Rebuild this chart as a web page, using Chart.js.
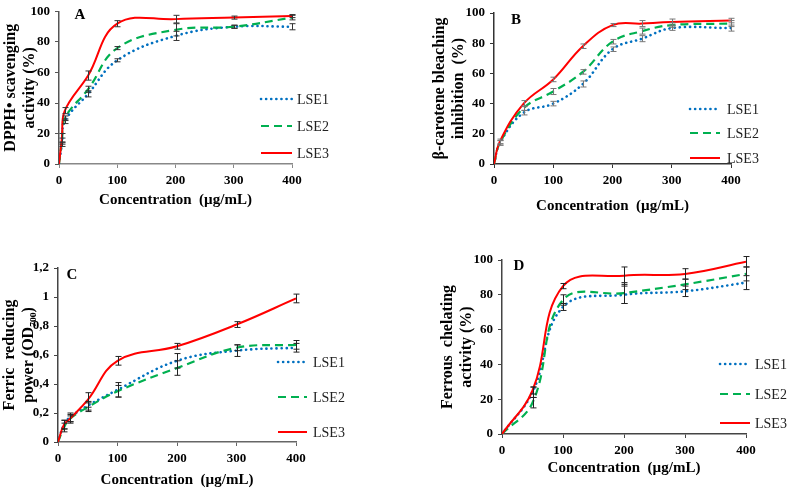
<!DOCTYPE html>
<html>
<head>
<meta charset="utf-8">
<script src="https://cdn.jsdelivr.net/npm/chart.js@4.4.1/dist/chart.umd.min.js"></script>
<style>
  html, body { margin: 0; padding: 0; background: #fff; }
  #wrap { position: relative; width: 787px; height: 488px; }
  #wrap canvas { position: absolute; left: 0; top: 0; }
</style>
</head>
<body>
<div id="wrap">
  <canvas id="chartA" width="787" height="488"></canvas>
  <canvas id="chartB" width="787" height="488"></canvas>
  <canvas id="chartC" width="787" height="488"></canvas>
  <canvas id="chartD" width="787" height="488"></canvas>
</div>
<script>
// A - DPPH scavenging (%)
var concA = [0, 5, 10, 50, 100, 200, 300, 400];
var dpphLSE1 = [0, 13, 28, 46, 68, 84, 90, 90];
var dpphLSE2 = [0, 15, 30, 49, 76, 88, 90, 96];
var dpphLSE3 = [0, 17, 35, 58, 92, 95, 96, 97];
var dpphErr1 = [0, 1.5, 1.5, 2, 1, 3, 1, 2];
var dpphErr2 = [0, 2, 1.5, 2, 1, 4, 1, 1.5];
var dpphErr3 = [0, 3, 2, 3, 2, 2.5, 1, 1];

// B - beta-carotene bleaching inhibition (%)
var concB = [0, 10, 50, 100, 150, 200, 250, 300, 400];
var betaLSE1 = [0, 14, 34, 40, 53, 76, 83, 90, 90];
var betaLSE2 = [0, 14, 37, 48, 61, 81, 88, 92, 93];
var betaLSE3 = [0, 15, 40, 56, 78, 92, 93, 94, 95];
var betaErr1 = [0, 1.5, 1.5, 1.5, 2, 1.5, 2, 1.5, 2];
var betaErr2 = [0, 1.5, 1.5, 2, 1.5, 1.5, 2, 1.5, 2];
var betaErr3 = [0, 1.5, 2, 1.5, 1.5, 1, 2, 2, 1.5];

// C - ferric reducing power (OD700)
var concC = [0, 10, 20, 50, 100, 200, 300, 400];
var frpLSE1 = [0, 0.12, 0.17, 0.25, 0.36, 0.56, 0.63, 0.65];
var frpLSE2 = [0, 0.10, 0.16, 0.24, 0.35, 0.51, 0.65, 0.67];
var frpLSE3 = [0, 0.12, 0.16, 0.29, 0.56, 0.66, 0.81, 0.99];
var frpErr1 = [0, 0.03, 0.03, 0.03, 0.05, 0.05, 0.04, 0.03];
var frpErr2 = [0, 0.03, 0.03, 0.03, 0.04, 0.05, 0.02, 0.03];
var frpErr3 = [0, 0.03, 0.02, 0.05, 0.03, 0.02, 0.02, 0.03];

// D - ferrous chelating activity (%)
var concD = [0, 50, 100, 200, 300, 400];
var chelLSE1 = [0, 24, 73, 80, 82, 87];
var chelLSE2 = [0, 18, 77, 81, 86, 92];
var chelLSE3 = [0, 25, 85, 91, 92, 99];
var chelErr1 = [0, 3, 2, 5, 3, 4];
var chelErr2 = [0, 3, 3, 6, 3, 4];
var chelErr3 = [0, 2, 1.5, 5, 3, 3];

var seriesNames = ['LSE1', 'LSE2', 'LSE3'];

Chart.defaults.font.family = "'Liberation Serif', 'Times New Roman', serif";
Chart.defaults.color = '#000';

/* vertical error bars with little caps */
const errorBars = {
  id: 'errorBars',
  afterDatasetsDraw(chart, args, opts) {
    const ctx = chart.ctx, ys = chart.scales.y;
    ctx.save();
    ctx.strokeStyle = opts.color || '#333';
    ctx.lineWidth = 1;
    chart.data.datasets.forEach((ds, di) => {
      const meta = chart.getDatasetMeta(di);
      ds.errors.forEach((e, i) => {
        if (!e) return;
        const x = Math.round(meta.data[i].x) + 0.5;
        const v = ds.data[i].y;
        const top = ys.getPixelForValue(v + e), bot = ys.getPixelForValue(v - e);
        ctx.beginPath();
        ctx.moveTo(x, top); ctx.lineTo(x, bot);
        ctx.moveTo(x - 3, top); ctx.lineTo(x + 3, top);
        ctx.moveTo(x - 3, bot); ctx.lineTo(x + 3, bot);
        ctx.stroke();
      });
    });
    ctx.restore();
  }
};

/* legend drawn where the original has it */
const sideLegend = {
  id: 'sideLegend',
  afterDraw(chart, args, opts) {
    const ctx = chart.ctx;
    ctx.save();
    chart.data.datasets.forEach((ds, i) => {
      const y = opts.ys[i];
      ctx.beginPath();
      ctx.strokeStyle = ds.borderColor;
      ctx.lineWidth = ds.borderWidth;
      ctx.lineCap = ds.borderCapStyle;
      ctx.setLineDash(ds.borderDash);
      ctx.moveTo(opts.x1, y); ctx.lineTo(opts.x2, y);
      ctx.stroke();
      ctx.setLineDash([]);
      ctx.fillStyle = '#222';
      ctx.font = "14px 'Liberation Serif'";
      ctx.textBaseline = 'middle';
      ctx.fillText(ds.label, opts.textX, y + 1);
    });
    ctx.restore();
  }
};

const panelTag = {
  id: 'panelTag',
  afterDraw(chart, args, opts) {
    const ctx = chart.ctx;
    ctx.save();
    ctx.fillStyle = '#000';
    ctx.font = "bold 15px 'Liberation Serif'";
    ctx.textAlign = 'center';
    ctx.textBaseline = 'middle';
    ctx.fillText(opts.text, opts.x, opts.y);
    ctx.restore();
  }
};

function makePanel(canvasId, p) {
  var W = 787, H = 488;
  var styles = [
    { color: '#0070C0', width: 2.6, dash: [0.1, 5], cap: 'round' },
    { color: '#00B050', width: 2.2, dash: [8, 5], cap: 'butt' },
    { color: '#FF0000', width: 2, dash: [], cap: 'butt' }
  ];
  var datasets = p.ys.map((vals, k) => ({
    label: seriesNames[k],
    data: p.x.map((x, i) => ({ x: x, y: vals[i] })),
    errors: p.errs[k],
    borderColor: styles[k].color,
    borderWidth: styles[k].width,
    borderDash: styles[k].dash,
    borderCapStyle: styles[k].cap,
    pointRadius: 0,
    tension: 0.4,
    fill: false,
    order: 3 - k
  }));

  new Chart(document.getElementById(canvasId), {
    type: 'line',
    data: { datasets: datasets },
    options: {
      responsive: false,
      animation: false,
      events: [],
      layout: {
        padding: { left: p.titleLeft, top: p.area.t, right: W - p.area.r, bottom: H - p.area.b - p.xh }
      },
      plugins: {
        legend: { display: false },
        tooltip: { enabled: false },
        errorBars: { color: p.errColor },
        sideLegend: p.legend,
        panelTag: p.tag
      },
      scales: {
        x: {
          type: 'linear', min: 0, max: 400,
          border: { display: true, color: p.xAxisColor, width: 1.5 },
          grid: { display: true, drawOnChartArea: false, drawTicks: true, tickLength: 4, color: p.xAxisColor },
          ticks: { stepSize: 100, padding: 6, font: { size: 13, weight: 'bold', lineHeight: 1 } },
          title: {
            display: true, text: 'Concentration  (\u00b5g/mL)', padding: 0,
            font: { size: 15, weight: 'bold', lineHeight: 1.2 }
          },
          afterFit: s => { s.height = p.xh; }
        },
        y: {
          min: 0, max: p.ymax,
          border: { display: true, color: p.yAxisColor, width: 1.5 },
          grid: { display: true, drawOnChartArea: false, drawTicks: true, tickLength: 4, color: p.yAxisColor },
          ticks: { stepSize: p.ystep, padding: 5, font: { size: 13, weight: 'bold', lineHeight: 1 }, callback: p.fmt },
          title: {
            display: true, text: p.yTitle, padding: 0,
            font: { size: 16, weight: 'bold', lineHeight: 1.15 }
          },
          afterFit: s => { s.width = p.area.l - p.titleLeft; }
        }
      }
    },
    plugins: [errorBars, sideLegend, panelTag]
  });
}

var intFmt = v => String(v);
var commaFmt = v => String(Math.round(v * 10) / 10).replace('.', ',');

makePanel('chartA', {
  x: concA, ys: [dpphLSE1, dpphLSE2, dpphLSE3], errs: [dpphErr1, dpphErr2, dpphErr3],
  area: { l: 59, r: 292, t: 6, b: 164 }, xh: 45, titleLeft: 2,
  ymax: 100, ystep: 20, fmt: intFmt,
  yTitle: ['DPPH\u2022 scavenging', 'activity (%)'],
  xAxisColor: '#888', yAxisColor: '#555', errColor: '#333',
  legend: { x1: 261, x2: 292, textX: 297, ys: [99, 126, 153] },
  tag: { text: 'A', x: 80, y: 15 }
});

makePanel('chartB', {
  x: concB, ys: [betaLSE1, betaLSE2, betaLSE3], errs: [betaErr1, betaErr2, betaErr3],
  area: { l: 494, r: 731, t: 13, b: 164 }, xh: 51, titleLeft: 431,
  ymax: 100, ystep: 20, fmt: intFmt,
  yTitle: ['\u03b2-carotene bleaching', 'inhibition  (%)'],
  xAxisColor: '#333', yAxisColor: '#333', errColor: '#777',
  legend: { x1: 690, x2: 720, textX: 727, ys: [109, 133, 158] },
  tag: { text: 'B', x: 516, y: 20 }
});

makePanel('chartC', {
  x: concC, ys: [frpLSE1, frpLSE2, frpLSE3], errs: [frpErr1, frpErr2, frpErr3],
  area: { l: 58, r: 296, t: 268, b: 442 }, xh: 47, titleLeft: 1,
  ymax: 1.2, ystep: 0.2, fmt: commaFmt,
  yTitle: ['Ferric  reducing', 'power (OD\u2087\u2080\u2080)'],
  xAxisColor: '#666', yAxisColor: '#444', errColor: '#222',
  legend: { x1: 278, x2: 307, textX: 313, ys: [362, 397, 432] },
  tag: { text: 'C', x: 72, y: 275 }
});

makePanel('chartD', {
  x: concD, ys: [chelLSE1, chelLSE2, chelLSE3], errs: [chelErr1, chelErr2, chelErr3],
  area: { l: 502, r: 746, t: 260, b: 434 }, xh: 43, titleLeft: 439,
  ymax: 100, ystep: 20, fmt: intFmt,
  yTitle: ['Ferrous  chelating', 'activity (%)'],
  xAxisColor: '#444', yAxisColor: '#444', errColor: '#222',
  legend: { x1: 720, x2: 750, textX: 755, ys: [364, 394, 423] },
  tag: { text: 'D', x: 519, y: 266 }
});
</script>
</body>
</html>
